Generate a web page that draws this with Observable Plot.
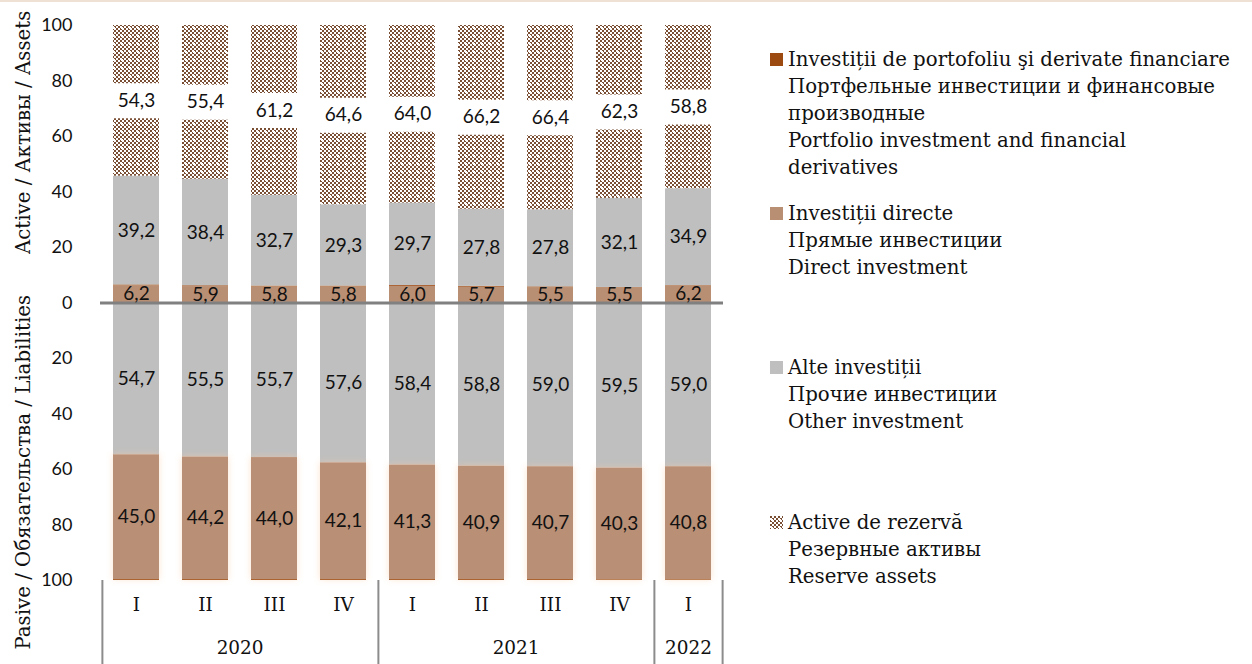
<!DOCTYPE html>
<html><head><meta charset="utf-8">
<script src="https://cdn.jsdelivr.net/npm/d3@7"></script>
<script src="https://cdn.jsdelivr.net/npm/@observablehq/plot@0.6"></script>
<style>
body{margin:0;background:#fff;width:1252px;height:664px;overflow:hidden;position:relative;}
#topline{position:absolute;left:0;top:0;width:1252px;height:2px;background:#efe2d4;}
.leg{position:absolute;left:770px;font-family:"DejaVu Serif",serif;line-height:27px;color:#111;white-space:nowrap;}
.leg svg{position:absolute;left:0;top:7px;}
.leg .tx{margin-left:18px;}
</style></head>
<body>
<div id="chart"></div>
<div id="topline"></div>
<div id="legend"></div>
<script>
// ---- data ----
const periods = ["2020 I","2020 II","2020 III","2020 IV","2021 I","2021 II","2021 III","2021 IV","2022 I"];
const quarters = ["I","II","III","IV","I","II","III","IV","I"];
const yearCenterA = ["2020 II","2021 II"];   // year label sits between II and III
const yearCenterB = ["2022 I"];
const yearA = ["2020","2021"];
const yearB = ["2022"];
const sepLeft = ["2020 I","2021 I","2022 I"];
const sepRight = ["2022 I"];

const assetsReserve   = [54.3,55.4,61.2,64.6,64.0,66.2,66.4,62.3,58.8];
const assetsOther     = [39.2,38.4,32.7,29.3,29.7,27.8,27.8,32.1,34.9];
const assetsDirect    = [6.2,5.9,5.8,5.8,6.0,5.7,5.5,5.5,6.2];
const assetsPortfolio = [0.3,0.3,0.3,0.3,0.3,0.3,0.3,0.1,0.1];
const liabOther       = [54.7,55.5,55.7,57.6,58.4,58.8,59.0,59.5,59.0];
const liabDirect      = [45.0,44.2,44.0,42.1,41.3,40.9,40.7,40.3,40.8];
const liabPortfolio   = [0.3,0.3,0.3,0.3,0.3,0.3,0.3,0.2,0.2];

const yTicks = [-100,-80,-60,-40,-20,0,20,40,60,80,100];
const titleAssets = ["Active / Активы / Assets"];
const titleLiab = ["Pasive / Обязательства / Liabilities"];

const legendPortfolio = ["Investiții de portofoliu şi derivate financiare","Портфельные инвестиции и финансовые","производные","Portfolio investment and financial","derivatives"];
const legendDirect = ["Investiții directe","Прямые инвестиции","Direct investment"];
const legendOther = ["Alte investiții","Прочие инвестиции","Other investment"];
const legendReserve = ["Active de rezervă","Резервные активы","Reserve assets"];

// ---- font fitting ----
const SERIF = "DejaVu Serif";
const ctx = document.createElement("canvas").getContext("2d");
function fitSize(text, family, target){ ctx.font = `100px "${family}"`; return 100 * target / ctx.measureText(text).width; }
const legendSize = fitSize(legendPortfolio[0], SERIF, 442);
const titleSize = fitSize(titleLiab[0], SERIF, 355);
const catSize = fitSize("2020", SERIF, 47);

// ---- styles ----
const C_PORT = "#9c4a10", C_DIRECT = "#b98f74", C_OTHER = "#bfbfbf", C_RES = "url(#resPat)";
const order = ["A-direct","A-portfolio","A-other","A-reserve","L-other","L-direct","L-portfolio"];
const colorRange = [C_DIRECT, C_PORT, C_OTHER, C_RES, C_OTHER, C_DIRECT, C_PORT];

const rows = [];
periods.forEach((p,i)=>{
  rows.push({period:p, series:"A-direct", value: assetsDirect[i]});
  rows.push({period:p, series:"A-portfolio", value: assetsPortfolio[i]});
  rows.push({period:p, series:"A-other", value: assetsOther[i]});
  rows.push({period:p, series:"A-reserve", value: assetsReserve[i]});
  rows.push({period:p, series:"L-other", value: -liabOther[i]});
  rows.push({period:p, series:"L-direct", value: -liabDirect[i]});
  rows.push({period:p, series:"L-portfolio", value: -liabPortfolio[i]});
});
const fmt = v => d3.format(".1f")(Math.abs(v)).replace(".", ",");

const W = 1252, H = 664, ML = 100, MR = 529, MT = 25, MB = 84;
const step = (W - ML - MR) / periods.length;
const stk = extra => Plot.stackY({x:"period", y:"value", z:"series", order, ...extra});
const serifText = {fontFamily: `"${SERIF}", serif`, fill: "#111"};

const chart = Plot.plot({
  width: W, height: H,
  marginLeft: ML, marginRight: MR, marginTop: MT, marginBottom: MB,
  style: {fontFamily: "Lato, sans-serif", fontSize: "18px", color: "#111", background: "transparent"},
  x: {domain: periods, paddingInner: 0.335, paddingOuter: 0.1675, axis: null},
  y: {domain: [-100, 100], ticks: yTicks, tickFormat: d => Math.abs(d), tickSize: 0, tickPadding: 28, label: null},
  color: {type: "ordinal", domain: order, range: colorRange},
  marks: [
    Plot.barY(rows, stk({fill: "series"})),
    Plot.tickY(rows, stk({stroke: "white", strokeWidth: 35, strokeOpacity: d => d.series === "A-reserve" ? 1 : 0})),
    Plot.ruleY([0], {stroke: "#808080", strokeWidth: 3}),
    Plot.text(rows, stk({text: d => d.series.endsWith("portfolio") ? "" : fmt(d.value), fill: "#111", fontSize: 19})),
    Plot.text(periods, {x: d => d, text: (d,i) => quarters[i], frameAnchor: "bottom", dy: 30, fontSize: catSize, ...serifText}),
    Plot.text(yearCenterA, {x: d => d, text: (d,i) => yearA[i], frameAnchor: "bottom", dx: step/2, dy: 73, fontSize: catSize, ...serifText}),
    Plot.text(yearCenterB, {x: d => d, text: (d,i) => yearB[i], frameAnchor: "bottom", dy: 73, fontSize: catSize, ...serifText}),
    Plot.ruleX(sepLeft, {x: d => d, dx: -step/2 + 0.5, y1: -100, y2: -100, insetBottom: -90, stroke: "#8c8c8c", strokeWidth: 2}),
    Plot.ruleX(sepRight, {x: d => d, dx: step/2 - 0.5, y1: -100, y2: -100, insetBottom: -90, stroke: "#8c8c8c", strokeWidth: 2}),
    Plot.text(titleAssets, {y: [61.5], text: d => d, frameAnchor: "left", textAnchor: "middle", dx: -77, rotate: -90, fontSize: titleSize, ...serifText}),
    Plot.text(titleLiab, {y: [-61], text: d => d, frameAnchor: "left", textAnchor: "middle", dx: -77, rotate: -90, fontSize: titleSize, ...serifText})
  ]
});

// defs: pattern + glow
const defsHTML = `
<pattern id="resPat" width="8" height="8" patternUnits="userSpaceOnUse">
  <rect width="8" height="8" fill="#ffffff"/>
  <path d="M0 0h2v2h-2z M4 0h2v2h-2z M2 2h2v2h-2z M6 2h2v2h-2z M0 4h2v2h-2z M4 4h2v2h-2z M2 6h2v2h-2z M6 6h2v2h-2z" fill="#7a4e33"/>
  <rect x="0" y="3" width="3" height="1" fill="#fff"/>
  <rect x="1" y="2" width="1" height="3" fill="#fff"/>
</pattern>
<filter id="glow" x="-30%" y="-10%" width="160%" height="120%">
  <feGaussianBlur in="SourceAlpha" stdDeviation="3" result="b"/>
  <feFlood flood-color="#fbc79c" flood-opacity="0.5"/>
  <feComposite in2="b" operator="in" result="g"/>
  <feMerge><feMergeNode in="g"/><feMergeNode in="SourceGraphic"/></feMerge>
</filter>`;
const defs = document.createElementNS("http://www.w3.org/2000/svg", "defs");
defs.innerHTML = defsHTML;
chart.insertBefore(defs, chart.firstChild);
const zeroPx = chart.scale("y").apply(0);
d3.select(chart).selectAll("rect").filter(function(){
  return this.getAttribute("fill") === C_DIRECT && +this.getAttribute("y") > zeroPx + 2;
}).attr("filter", "url(#glow)");
document.getElementById("chart").appendChild(chart);

// legend
const legendItems = [
  {fill: C_PORT, lines: legendPortfolio, top: 46},
  {fill: C_DIRECT, lines: legendDirect, top: 200},
  {fill: C_OTHER, lines: legendOther, top: 354},
  {fill: C_RES, lines: legendReserve, top: 509}
];
const leg = document.getElementById("legend");
legendItems.forEach(it => {
  const div = document.createElement("div");
  div.className = "leg";
  div.style.top = it.top + "px";
  div.style.fontSize = legendSize + "px";
  div.innerHTML = `<svg width="13" height="13"><rect width="13" height="13" fill="${it.fill}"/></svg><div class="tx">${it.lines.join("<br>")}</div>`;
  leg.appendChild(div);
});
</script>
</body></html>
